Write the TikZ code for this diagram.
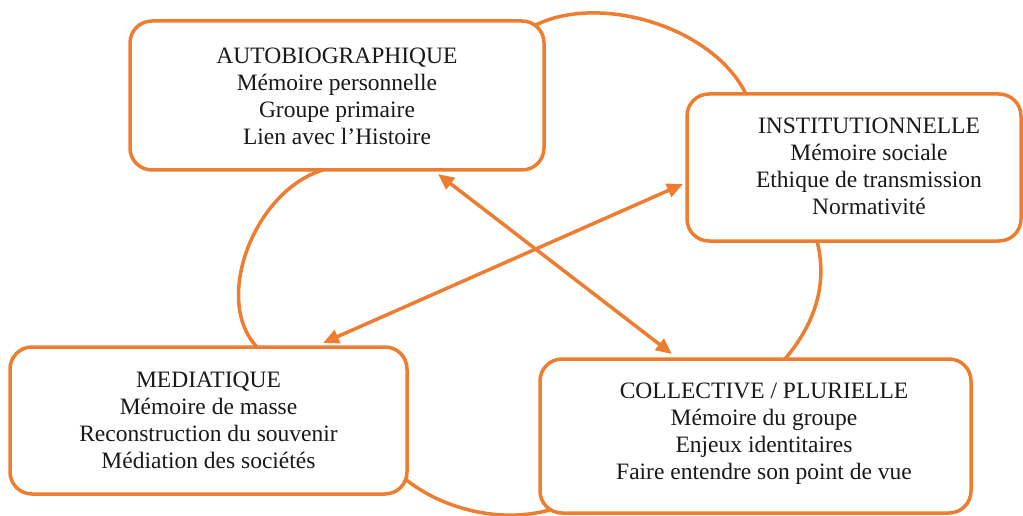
\documentclass[tikz,border=0pt]{standalone}
\usepackage{fontspec}
\setmainfont{Liberation Serif}
\usetikzlibrary{arrows.meta}
\definecolor{accent}{HTML}{ED7D31}
\begin{document}
\begin{tikzpicture}[x=1pt,y=-1pt,
  box/.style={draw=accent, line width=3.5pt, rounded corners=22pt, fill=white, inner sep=0pt},
  lbl/.style={align=center, font=\fontsize{23.5}{27}\selectfont, inner sep=0pt, text=black!90},
  link/.style={draw=accent, line width=3.5pt},
  dblarrow/.style={draw=accent, line width=3.5pt, {Triangle[length=16pt,width=14pt]}-{Triangle[length=16pt,width=14pt]}},
]
\useasboundingbox (0,0) rectangle (1023,516);

% arcs between boxes
\coordinate (t1) at (532,27);
\coordinate (t2) at (746,94);
\coordinate (l1) at (323,170);
\coordinate (l2) at (257,347);
\coordinate (r1) at (817,241);
\coordinate (r2) at (785,359);
\coordinate (b1) at (404,478);
\coordinate (b2) at (553,509);
\draw[link] (t1) .. controls (595,-8) and (712,25) .. (t2);
\draw[link] (l1) .. controls (255,190) and (212,300) .. (l2);
\draw[link] (r1) .. controls (827,280) and (818,320) .. (r2);
\draw[link] (b1) .. controls (440,508) and (500,525) .. (b2);

% boxes
\node[box, minimum width=414pt, minimum height=149pt] (auto) at (337,95.5) {};
\node[box, minimum width=334pt, minimum height=147pt] (inst) at (854,167.5) {};
\node[box, minimum width=397pt, minimum height=147pt] (med) at (208.5,420.5) {};
\node[box, minimum width=431pt, minimum height=154pt] (coll) at (755.5,436) {};

% texts
\node[lbl] (autot) at (337,96) {AUTOBIOGRAPHIQUE\\Mémoire personnelle\\Groupe primaire\\Lien avec l’Histoire};
\node[lbl] (instt) at (869,166.5) {INSTITUTIONNELLE\\Mémoire sociale\\Ethique de transmission\\Normativité};
\node[lbl] (medt) at (208.5,420.5) {MEDIATIQUE\\Mémoire de masse\\Reconstruction du souvenir\\Médiation des sociétés};
\node[lbl] (collt) at (764,434) {COLLECTIVE / PLURIELLE\\Mémoire du groupe\\Enjeux identitaires\\Faire entendre son point de vue};

% double arrows
\coordinate (a1) at (438,174);
\coordinate (a2) at (672,354);
\coordinate (c1) at (683,184);
\coordinate (c2) at (323,343);
\draw[dblarrow] (a1) -- (a2);
\draw[dblarrow] (c1) -- (c2);
\end{tikzpicture}
\end{document}
